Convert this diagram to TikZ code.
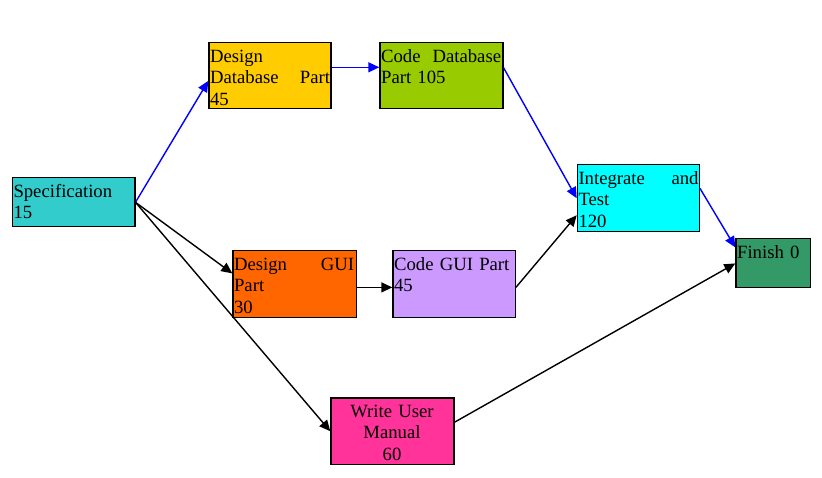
\documentclass[tikz,border=0pt]{standalone}
\usepackage{fontspec}
\setmainfont{Liberation Serif}
\newfontfamily\tnrfont{Liberation Serif}
\usetikzlibrary{arrows.meta}
\definecolor{cSpec}{HTML}{33CCCC}
\definecolor{cDDP}{HTML}{FFCC00}
\definecolor{cCDP}{HTML}{99CC00}
\definecolor{cIT}{HTML}{00FFFF}
\definecolor{cFin}{HTML}{339966}
\definecolor{cDGP}{HTML}{FF6600}
\definecolor{cCGP}{HTML}{CC99FF}
\definecolor{cWUM}{HTML}{FF3399}
\tikzset{
  box/.style={draw=black, line width=1.2pt, rectangle, inner sep=0pt, anchor=north west},
  boxtext/.style={anchor=north west, inner sep=0pt, text width=120pt, align=left,
    font=\tnrfont\fontsize{18.7}{21.5}\selectfont},
  boxtextc/.style={boxtext, align=center},
  edge/.style={line width=1.4pt, -{Triangle[length=11pt,width=10pt]}},
  bedge/.style={edge, draw=blue, color=blue},
  kedge/.style={edge, draw=black}
}
\newcommand{\fst}{\rule{0pt}{19.7pt}}
\newcommand{\jl}[2]{\makebox[120pt][l]{#1\hfill #2}}
\begin{document}
\begin{tikzpicture}[x=1pt,y=-1pt]
\useasboundingbox (0,0) rectangle (822,478);
% boxes
\node[box, fill=cSpec, minimum width=122.6pt, minimum height=49pt] (spec) at (11.7,177.2) {};
\node[box, fill=cDDP, minimum width=122pt, minimum height=66pt] (ddp) at (208.3,42.3) {};
\node[box, fill=cCDP, minimum width=123pt, minimum height=66pt] (cdp) at (379.3,42.3) {};
\node[box, fill=cIT, minimum width=122pt, minimum height=66.7pt] (it) at (576.7,164.3) {};
\node[box, fill=cFin, minimum width=74.4pt, minimum height=49pt] (fin) at (735.3,238.3) {};
\node[box, fill=cDGP, minimum width=123.4pt, minimum height=67pt] (dgp) at (232.3,250.3) {};
\node[box, fill=cCGP, minimum width=122.4pt, minimum height=67pt] (cgp) at (392.3,250.3) {};
\node[box, fill=cWUM, minimum width=123pt, minimum height=66.7pt] (wum) at (330.3,397.3) {};
% texts
\node[boxtext] (specT) at ([xshift=1.6pt]spec.north west) {\fst Specification\\15};
\node[boxtext] (ddpT) at ([xshift=1.6pt]ddp.north west) {\fst Design\\\jl{Database}{Part}\\45};
\node[boxtext] (cdpT) at ([xshift=1.6pt]cdp.north west) {\fst\jl{Code}{Database}\\Part 105};
\node[boxtext] (itT) at ([xshift=1.6pt]it.north west) {\fst\jl{Integrate}{and}\\Test\\120};
\node[boxtext, text width=72pt] (finT) at ([xshift=1.6pt]fin.north west) {\fst Finish 0};
\node[boxtext] (dgpT) at ([xshift=1.6pt]dgp.north west) {\fst\jl{Design}{GUI}\\Part\\30};
\node[boxtext] (cgpT) at ([xshift=1.6pt]cgp.north west) {\fst Code GUI Part\\45};
\node[boxtextc] (wumT) at ([xshift=1.5pt]wum.north west) {\fst Write User\\Manual\\60};
% edges
\draw[bedge] (spec.east) -- ([yshift=-5pt]ddp.west);
\draw[bedge] ([yshift=8.6pt]ddp.east) -- ([yshift=8.6pt]cdp.west);
\draw[bedge] ([yshift=8.3pt]cdp.east) -- (it.west);
\draw[bedge] ([yshift=10pt]it.east) -- ([yshift=16pt]fin.west);
\draw[kedge] (spec.east) -- ([yshift=11pt]dgp.west);
\draw[kedge] (spec.east) -- (wum.west);
\draw[kedge] ([yshift=-3pt]dgp.east) -- ([yshift=-3pt]cgp.west);
\draw[kedge] ([yshift=-3pt]cgp.east) -- ([yshift=-17pt]it.west);
\draw[kedge] ([yshift=9pt]wum.east) -- (fin.west);
\end{tikzpicture}
\end{document}
